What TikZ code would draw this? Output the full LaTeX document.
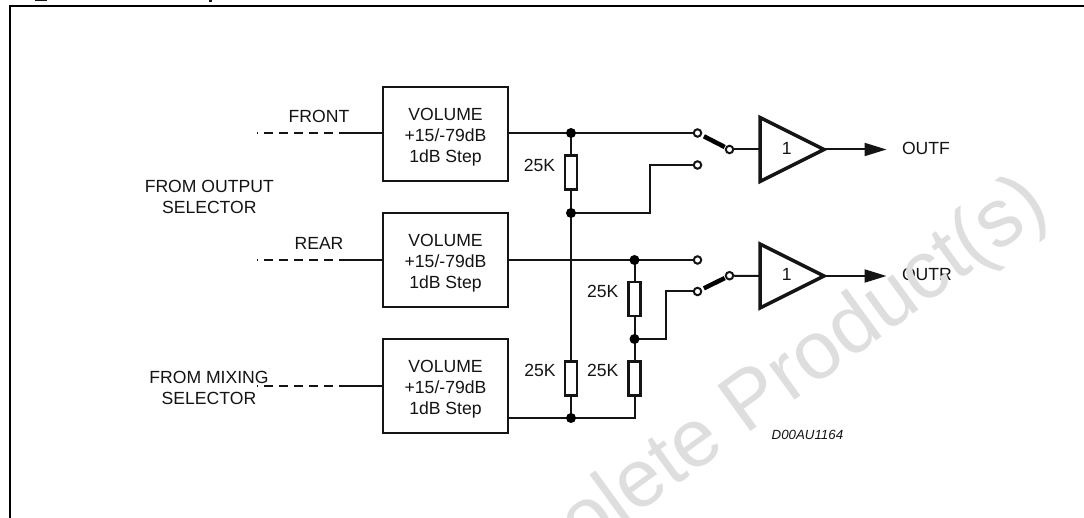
\documentclass[tikz,border=0pt]{standalone}
\usepackage{fontspec}
\setmainfont{Liberation Sans}
\usetikzlibrary{arrows.meta,calc}
\newcommand{\voltxt}{\rule{0pt}{19pt}VOLUME\\+15/-79dB\\1dB Step}
\definecolor{wm}{HTML}{DEDEDE}
\definecolor{ink}{HTML}{141414}
\tikzset{
  wire/.style={draw=ink,line width=2pt},
  inwire/.style={draw=ink,line width=2pt,dash pattern=on 9pt off 6pt,dash phase=8pt},
  volbox/.style={draw=ink,line width=2.2pt,minimum width=125pt,minimum height=94pt,inner sep=0pt,align=center,font=\fontsize{17.6}{21}\selectfont,text=ink},
  res/.style={draw=ink,line width=2.2pt,fill=white,minimum width=12pt,minimum height=34pt,inner sep=0pt},
  dot/.style={circle,fill=black,minimum size=10pt,inner sep=0pt},
  contact/.style={circle,draw=ink,line width=2pt,fill=white,minimum size=7.5pt,inner sep=0pt},
  lbl/.style={inner sep=0pt,outer sep=0pt,anchor=base,font=\fontsize{17.6}{21}\selectfont,text=ink,align=center},
  lbl2/.style={inner sep=0pt,outer sep=0pt,anchor=center,font=\fontsize{17.6}{21}\selectfont,text=ink,align=center},
  amp/.style={draw=ink,line width=3.5pt,miter limit=10},
  blade/.style={draw=black,line width=4.5pt},
}
\begin{document}
\begin{tikzpicture}[x=1pt,y=-1pt]
\useasboundingbox (0,0) rectangle (1084,518);
\clip (0,0) rectangle (1084,518);
\fill[white] (0,0) rectangle (1084,518);
% clipped title descenders
\fill[ink] (35,0) rectangle (47,1.5);
\fill[ink] (209,0) rectangle (212,2.5);
% frame
\draw[draw=black,line width=2.2pt] (10,520) -- (10,6) -- (1090,6);

% nodes
\node[volbox] (v1) at (445.5,134) {\voltxt};
\node[volbox] (v2) at (445.5,260) {\voltxt};
\node[volbox] (v3) at (445.5,385.7) {\voltxt};

\coordinate (in1) at (257,133);
\coordinate (in2) at (257,260);
\coordinate (in3) at (257,386);
\coordinate (s1) at (345,133);
\coordinate (s2) at (345,260);
\coordinate (s3) at (345,386);

\draw[inwire] (in1) -- (s1);
\draw[inwire] (in2) -- (s2);
\draw[inwire] (in3) -- (s3);
\draw[wire] (s1) -- (v1.west |- s1);
\draw[wire] (s2) -- (v2.west |- s2);
\draw[wire] (s3) -- (v3.west |- s3);

\coordinate (j1) at (571,133);
\coordinate (j2) at (571,213);
\coordinate (j3) at (571,418);
\coordinate (j4) at (634.5,260);
\coordinate (j5) at (634.5,339);
\coordinate (c5) at (634.5,418);
\coordinate (b1) at (650,213);
\coordinate (b2) at (650,165);
\coordinate (b3) at (665.5,339);
\coordinate (b4) at (665.5,291.5);

\coordinate (k1) at (697.5,133);
\coordinate (k2) at (697.5,165);
\coordinate (k3) at (697.5,260);
\coordinate (k4) at (697.5,291.5);
\coordinate (p1) at (729.5,149.5);
\coordinate (p2) at (729.5,275.7);

% amplifiers
\coordinate (a1i) at (760,149.5);
\coordinate (a1o) at (824,149.5);
\coordinate (a2i) at (760,276);
\coordinate (a2o) at (824,276);
\coordinate (e1) at (886.5,149.5);
\coordinate (e2) at (886.5,276);

% wires
\draw[wire] (v1.east |- j1) -- (k1);
\draw[wire] (j1) -- (j3);
\draw[wire] (j2) -- (b1) -- (b2) -- (k2);
\draw[wire] (v2.east |- j4) -- (k3);
\draw[wire] (j4) -- (c5) -- (v3.east |- c5);
\draw[wire] (j5) -- (b3) -- (b4) -- (k4);
\draw[wire] (p1) -- (a1i);
\draw[wire] (p2) -- (a2i);
\node[contact] (n1) at (k1) {};
\node[contact] (n2) at (k2) {};
\node[contact] (n3) at (k3) {};
\node[contact] (n4) at (k4) {};
\node[contact] (n5) at (p1) {};
\node[contact] (n6) at (p2) {};

% switch blades
\draw[blade] ($(k1)!0.2!(p1)$) -- ($(k1)!0.85!(p1)$);
\draw[blade] ($(k4)!0.2!(p2)$) -- ($(k4)!0.85!(p2)$);

% resistors
\node[res] (r1) at (571,172.5) {};
\node[res] (r2) at (571,378.5) {};
\node[res] (r3) at (634.5,299) {};
\node[res] (r4) at (634.5,378.5) {};

\node[dot] (d1) at (j1) {};
\node[dot] (d2) at (j2) {};
\node[dot] (d3) at (j3) {};
\node[dot] (d4) at (j4) {};
\node[dot] (d5) at (j5) {};

\draw[amp] (a1o) -- (760,117.5) -- (760,181.5) -- cycle;
\draw[amp] (a2o) -- (760,244) -- (760,308) -- cycle;
\draw[wire,-{Triangle[length=22pt,width=13pt]}] (a1o) -- (e1);
\draw[wire,-{Triangle[length=22pt,width=13pt]}] (a2o) -- (e2);

% labels
\node[lbl] (t1) at (319,122.7) {FRONT};
\node[lbl] (t2) at (319,249.3) {REAR};
\node[lbl2] (t3) at (209.3,196.5) {FROM OUTPUT\\SELECTOR};
\node[lbl2] (t4) at (209,387.5) {FROM MIXING\\SELECTOR};
\node[lbl] (t5) at (539.5,171.7) {25K};
\node[lbl] (t6) at (540,376.7) {25K};
\node[lbl] (t7) at (602.7,297.7) {25K};
\node[lbl] (t8) at (602.7,376.7) {25K};
\node[lbl] (t9) at (786.7,155) {1};
\node[lbl] (t10) at (786.7,281) {1};
\node[lbl,anchor=base west] (t11) at (902,155) {OUTF};
\node[lbl,anchor=base west] (t12) at (902,281) {OUTR};
\node[lbl,anchor=base west,font=\fontsize{13.3}{16}\selectfont\itshape] (t13) at (771.7,439.3) {D00AU1164};

% watermark
\node[inner sep=0pt,outer sep=0pt,anchor=base east,rotate=36,text=wm,font=\fontsize{82}{90}\selectfont] (wmk) at (1052,213) {Obsolete Product(s)};
\end{tikzpicture}
\end{document}
